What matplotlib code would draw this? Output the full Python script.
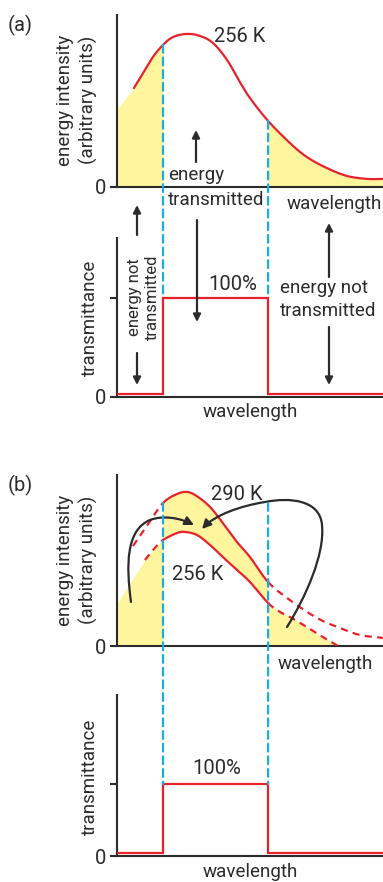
import numpy as np
import matplotlib
matplotlib.use('Agg')
import matplotlib.pyplot as plt
from matplotlib.patches import ConnectionPatch, FancyArrowPatch
from matplotlib.path import Path
from matplotlib.transforms import Affine2D

# ---------------- data ----------------
band = [17.3, 56.8]                 # transmitted wavelength window (arbitrary units)

# (a) 256 K emission curve
wl_a = [6.4, 9.8, 13.5, 17.3, 21.1, 26.3, 31.2, 36.1, 41.4, 46.2, 50.0, 56.8,
        65.0, 71.4, 78.9, 86.5, 94.0, 100.0]
I_a = [57.6, 66.3, 75.6, 82.6, 87.2, 89.0, 87.8, 83.7, 73.8, 61.0, 51.7, 38.4,
       25.6, 17.4, 11.0, 6.4, 4.7, 4.7]
fill_start_a = 45.3                 # yellow area height at wavelength 0

# (b) 290 K and 256 K curves
wl_290 = [6.0, 11.7, 17.3, 22.6, 26.7, 30.5, 35.0, 39.8, 45.1, 50.0, 56.8,
          65.0, 75.2, 83.8, 91.4, 100.0]
I_290 = [58.1, 70.9, 83.1, 88.4, 89.5, 86.6, 80.8, 71.5, 60.5, 51.7, 37.2,
         26.7, 16.3, 10.5, 6.4, 4.7]
wl_256 = [10.5, 13.9, 17.3, 22.6, 25.6, 30.1, 35.0, 39.8, 45.1, 50.0, 56.8,
          61.3, 65.0, 71.4, 77.4, 83.1]
I_256 = [50.0, 56.4, 61.6, 65.7, 66.3, 64.5, 58.7, 51.7, 44.2, 37.2, 25.0,
         19.8, 16.9, 11.0, 5.2, 0.0]
fill_start_b = 25.0

# transmittance (%)
trans_edges = [0, band[0], band[1], 100]
trans_a = [3.0, 100.0, 3.0]
trans_b = [4.2, 100.0, 4.2]

# ---------------- style ----------------
RED = '#e8222b'
BLUE = '#19ade6'
YEL = '#fff59e'
INK = '#2b2b2b'
FS = 13.5

W, H = 383, 882
plt.rcParams['font.family'] = ['Roboto', 'DejaVu Sans']
fig = plt.figure(figsize=(W / 100, H / 100), dpi=100)
PX = Affine2D().scale(1 / W, -1 / H).translate(0, 1) + fig.transFigure


def smooth(x, y, n=16):
    pts = np.column_stack([x, y]).astype(float)
    P = np.vstack([2 * pts[0] - pts[1], pts, 2 * pts[-1] - pts[-2]])
    out = []
    t = np.linspace(0, 1, n, endpoint=False)[:, None]
    for i in range(1, len(P) - 2):
        p0, p1, p2, p3 = P[i - 1], P[i], P[i + 1], P[i + 2]
        seg = 0.5 * ((2 * p1) + (-p0 + p2) * t + (2 * p0 - 5 * p1 + 4 * p2 - p3) * t ** 2
                     + (-p0 + 3 * p1 - 3 * p2 + p3) * t ** 3)
        out.append(seg)
    out.append(pts[-1:])
    s = np.vstack(out)
    return s[:, 0], s[:, 1]


def part(sx, sy, lo, hi):
    m = (sx >= lo - 1e-6) & (sx <= hi + 1e-6)
    return sx[m], sy[m]


def add_ax(top, bottom, ymax, ticks, labels):
    ax = fig.add_axes([117 / W, 1 - bottom / H, 266 / W, (bottom - top) / H])
    ax.set_xlim(0, 100)
    ax.set_ylim(0, ymax)
    for s in ['top', 'right']:
        ax.spines[s].set_visible(False)
    for s in ['left', 'bottom']:
        ax.spines[s].set_color(INK)
        ax.spines[s].set_linewidth(1.5)
    ax.set_xticks([])
    ax.set_yticks(ticks)
    ax.set_yticklabels(labels)
    ax.tick_params(axis='y', direction='out', length=5, width=1.5, color=INK,
                   labelsize=FS + 1, labelcolor=INK, pad=3)
    ax.patch.set_visible(False)
    return ax


ax1 = add_ax(15, 187, 100, [0], ['0'])
ax2 = add_ax(238, 397, 100 * 159 / 99, [0, 100], ['0', ''])
ax3 = add_ax(475, 646, 171 / 1.72, [0], ['0'])
ax4 = add_ax(695, 856, 100 * 161 / 72, [0, 100], ['0', ''])

# ---- (a) energy curve ----
sx, sy = smooth(wl_a, I_a)
lx, ly = part(sx, sy, 0, band[0])
ax1.fill_between(np.r_[0, lx], np.r_[fill_start_a, ly], 0, color=YEL, lw=0, zorder=1)
rx, ry = part(sx, sy, band[1], 100)
ax1.fill_between(rx, ry, 0, color=YEL, lw=0, zorder=1)
ax1.plot(sx, sy, color=RED, lw=1.6, zorder=3, clip_on=False)

# ---- (b) energy curves ----
hx, hy = smooth(wl_290, I_290)
cx, cy = smooth(wl_256, I_256)
lx, ly = part(cx, cy, 0, band[0])
ax3.fill_between(np.r_[0, lx], np.r_[fill_start_b, ly], 0, color=YEL, lw=0, zorder=1)
mhx, mhy = part(hx, hy, band[0], band[1])
mcx, mcy = part(cx, cy, band[0], band[1])
poly = np.vstack([np.column_stack([mhx, mhy]), np.column_stack([mcx, mcy])[::-1]])
ax3.fill(poly[:, 0], poly[:, 1], color=YEL, lw=0, zorder=1)
rx, ry = part(cx, cy, band[1], 100)
ax3.fill_between(rx, ry, 0, color=YEL, lw=0, zorder=1)
dash = (0, (3.2, 2.4))
for X, Y in [(hx, hy), (cx, cy)]:
    for lo, hi, ls in [(0, band[0], dash), (band[0], band[1], '-'), (band[1], 100, dash)]:
        px_, py_ = part(X, Y, lo, hi)
        if len(px_) > 1:
            ax3.plot(px_, py_, color=RED, lw=1.6, ls=ls, zorder=3)

# ---- transmittance ----
for ax, tr in [(ax2, trans_a), (ax4, trans_b)]:
    ax.stairs(tr, trans_edges, color=RED, lw=1.6, zorder=3, baseline=None)

# ---- blue dashed window lines ----
bdash = (0, (3.5, 2.2))
iA = wl_a.index(band[0]), wl_a.index(band[1])
for k, b in enumerate(band):
    con = ConnectionPatch(xyA=(b, I_a[iA[k]]), coordsA=ax1.transData,
                          xyB=(b, trans_a[1]), coordsB=ax2.transData,
                          color=BLUE, lw=1.6, ls=bdash, zorder=4)
    fig.add_artist(con)
    top_b = I_290[wl_290.index(band[0])]
    con = ConnectionPatch(xyA=(b, top_b), coordsA=ax3.transData,
                          xyB=(b, trans_b[1]), coordsB=ax4.transData,
                          color=BLUE, lw=1.6, ls=bdash, zorder=4)
    fig.add_artist(con)


# ---------------- text ----------------
def txt(x, y, s, **kw):
    kw.setdefault('fontsize', FS)
    kw.setdefault('color', INK)
    kw.setdefault('ha', 'center')
    kw.setdefault('va', 'center')
    fig.text(x, y, s, transform=PX, **kw)


txt(20, 25, '(a)', fontsize=FS + 1)
txt(20, 485, '(b)', fontsize=FS + 1)
for cy_ in (100, 560):
    txt(65, cy_, 'energy intensity', rotation=90)
    txt(88, cy_, '(arbitrary units)', rotation=90)
for cy_ in (318, 777):
    txt(90, cy_, 'transmittance', rotation=90)

txt(240, 36, '256 K', fontsize=FS + 1)
txt(168, 175, 'energy', ha='left')
txt(168, 200, 'transmitted', ha='left')
txt(382, 204, 'wavelength', ha='right')
txt(134, 297, 'energy not', rotation=90, fontsize=FS - 1.5)
txt(152, 297, 'transmitted', rotation=90, fontsize=FS - 1.5)
txt(280, 288, 'energy not', ha='left')
txt(280, 311, 'transmitted', ha='left')
txt(233, 284, '100%', fontsize=FS + 1)
txt(250, 412, 'wavelength')

txt(237, 494, '290 K', fontsize=FS + 1)
txt(198, 575, '256 K', fontsize=FS + 1)
txt(325, 664, 'wavelength')
txt(217, 769, '100%', fontsize=FS + 1)
txt(250, 872, 'wavelength')


# ---------------- arrows ----------------
def arrow(x0, y0, x1, y1):
    a = FancyArrowPatch((x0, y0), (x1, y1), transform=PX, arrowstyle='-|>',
                        mutation_scale=11, color=INK, lw=1.6, shrinkA=0, shrinkB=0)
    fig.add_artist(a)


arrow(196, 162, 196, 130)
arrow(197, 220, 197, 322)
arrow(137, 235, 137, 205)
arrow(137, 353, 137, 385)
arrow(329, 277, 329, 223)
arrow(329, 327, 329, 385)

C4 = Path.CURVE4
p1 = Path([(131, 602), (126, 565), (126, 530), (150, 520),
           (163, 515), (180, 518), (194, 525)],
          [Path.MOVETO, C4, C4, C4, C4, C4, C4])
p2 = Path([(287, 627), (305, 598), (325, 555), (322, 525),
           (320, 500), (290, 497), (265, 502),
           (240, 506), (215, 515), (202, 529)],
          [Path.MOVETO, C4, C4, C4, C4, C4, C4, C4, C4, C4])
for p in (p1, p2):
    a = FancyArrowPatch(path=p, transform=PX, arrowstyle='-|>', mutation_scale=13,
                        color=INK, lw=1.6)
    fig.add_artist(a)

fig.savefig('out.png', dpi=100)
